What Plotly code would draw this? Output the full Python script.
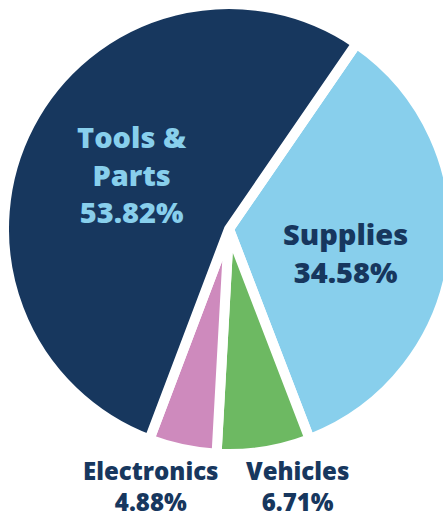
import plotly.graph_objects as go

labels = ["Supplies", "Vehicles", "Electronics", "Tools &<br>Parts"]
values = [34.58, 6.71, 4.88, 53.82]
colors = ["#88CFEC", "#6DB962", "#CE8ABD", "#17375E"]
text_colors = ["#17375E", "#17375E", "#17375E", "#88CFEC"]

W, H = 454, 516
ML, MR, MT, MB = 4, 0, 4, 62

fig = go.Figure(go.Pie(
    labels=labels,
    values=values,
    marker=dict(colors=colors, line=dict(color="white", width=10)),
    sort=False,
    direction="clockwise",
    rotation=34.5,
    textinfo="none",
    hoverinfo="skip",
    showlegend=False,
))


def px2paper(x, y):
    return (x - ML) / (W - ML - MR), (H - MB - y) / (H - MT - MB)


# label block centres (pixels) and font sizes
label_pos = [(345, 252), (297, 486), (151, 486), (132, 174)]
label_size = [29, 24, 24, 29]

for lab, val, tc, (x, y), fs in zip(labels, values, text_colors, label_pos, label_size):
    xp, yp = px2paper(x, y)
    fig.add_annotation(
        x=xp, y=yp, xref="paper", yref="paper",
        text=f"{lab}<br>{val:.2f}%",
        showarrow=False, xanchor="center", yanchor="middle",
        font=dict(family="Open Sans", size=fs, color=tc, weight=800),
        align="center",
    )

fig.update_layout(
    width=W, height=H,
    margin=dict(l=ML, r=MR, t=MT, b=MB, pad=0),
    paper_bgcolor="white", plot_bgcolor="white",
)

fig.write_html("out.html")
